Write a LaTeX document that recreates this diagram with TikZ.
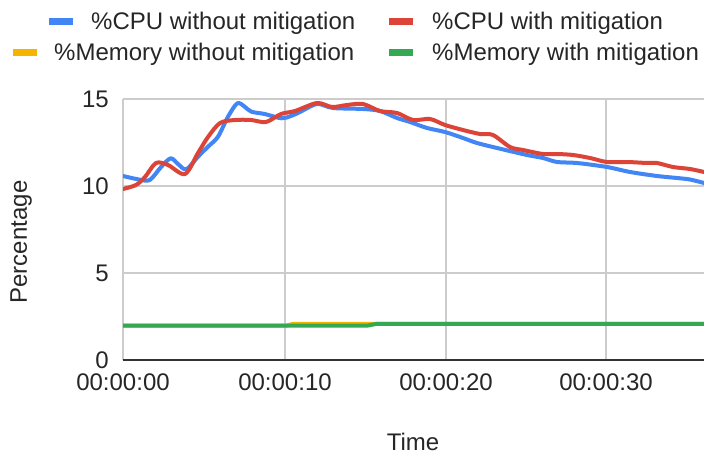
\documentclass[tikz,border=0pt]{standalone}
\usepackage{fontspec}
\setmainfont{Liberation Sans}
\definecolor{gblue}{HTML}{4285F4}
\definecolor{gred}{HTML}{DB4437}
\definecolor{gyellow}{HTML}{F4B400}
\definecolor{ggreen}{HTML}{34A853}
\definecolor{gridc}{HTML}{CCCCCC}
\definecolor{axisc}{HTML}{333333}
\begin{document}
\begin{tikzpicture}[x=1pt,y=-1pt,
  lbl/.style={font=\fontsize{24}{24}\selectfont, inner sep=0pt, text=black!85},
  series/.style={line width=4pt, line join=round, line cap=round},
  grid line/.style={draw=gridc, line width=1.6pt},
  swatch/.style={inner sep=0pt, minimum width=24pt, minimum height=7pt}]
\fill[white] (0,0) rectangle (704,454);
\useasboundingbox (0,0) rectangle (704,454);
% grid
\foreach \yy in {99,186,273} \draw[grid line] (123,\yy) -- (704,\yy);
\foreach \xx in {123,285,446,606} \draw[grid line] (\xx,99) -- (\xx,360);
\draw[axisc, line width=1.6pt] (123,360) -- (704,360);
% y labels
\node[lbl, anchor=east] (y15) at (109,99) {15};
\node[lbl, anchor=east] (y10) at (109,186) {10};
\node[lbl, anchor=east] (y5) at (109,273) {5};
\node[lbl, anchor=east] (y0) at (109,360) {0};
% x labels
\node[lbl, anchor=north] (x0) at (123,374) {00:00:00};
\node[lbl, anchor=north] (x10) at (285,374) {00:00:10};
\node[lbl, anchor=north] (x20) at (446,374) {00:00:20};
\node[lbl, anchor=north] (x30) at (606,374) {00:00:30};
\node[lbl, anchor=base] (xt) at (413,450) {Time};
\node[lbl, rotate=90] (yt) at (21,242) {Percentage};
% series
\begin{scope}
\clip (123,0) rectangle (704,454);
\draw[series, gblue] plot[smooth, tension=0.5] coordinates {
 (123,176) (138,179.3) (149.7,180) (161.3,166.7) (170.7,158.3) (178,164) (186.3,169.3)
 (198,156.7) (208,146.7) (218,136.7) (228,116.7) (237.3,103.3) (244.7,106.7) (251.3,111.7)
 (264.7,114) (281.3,118.3) (291,116) (300,112) (317,104) (333,108) (363,109) (380,111)
 (397,118) (410,122) (427,128) (445,132) (463,138) (477,143) (497,148) (527,155) (543,158)
 (557,162) (577,163) (607,167) (630,172) (657,176) (677,178) (690,179.5) (704,183)};
\draw[series, gred] plot[smooth, tension=0.5] coordinates {
 (123,189) (136,185) (145,177) (156,163) (168,165) (185,174) (198,153) (208,137) (220,123)
 (235,120) (251,120) (266,122) (281,114) (295,111) (317,103) (332,107) (347,105) (363,104)
 (380,111) (397,113) (413,120) (430,119) (445,125) (463,130) (480,134) (493,135) (510,147)
 (523,150) (543,154) (557,154) (573,155) (590,158) (607,162) (627,162) (647,163) (657,163)
 (673,167) (690,169) (704,172)};
\draw[series, gyellow, line cap=butt] (123,325.5) -- (287,325.5) -- (293,323.8) -- (704,323.8);
\draw[series, ggreen, line cap=butt] (123,325.5) -- (368,325.5) -- (377,323.8) -- (704,323.8);
\end{scope}
% legend
\node[swatch, fill=gblue] (s1) at (61,21.5) {};
\node[lbl, anchor=base west] (l1) at (91,30) {\%CPU without mitigation};
\node[swatch, fill=gred] (s2) at (401,21.5) {};
\node[lbl, anchor=base west] (l2) at (432,30) {\%CPU with mitigation};
\node[swatch, fill=gyellow] (s3) at (24.5,52.5) {};
\node[lbl, anchor=base west] (l3) at (54,61) {\%Memory without mitigation};
\node[swatch, fill=ggreen] (s4) at (401,52.5) {};
\node[lbl, anchor=base west] (l4) at (432,61) {\%Memory with mitigation};
\end{tikzpicture}
\end{document}
